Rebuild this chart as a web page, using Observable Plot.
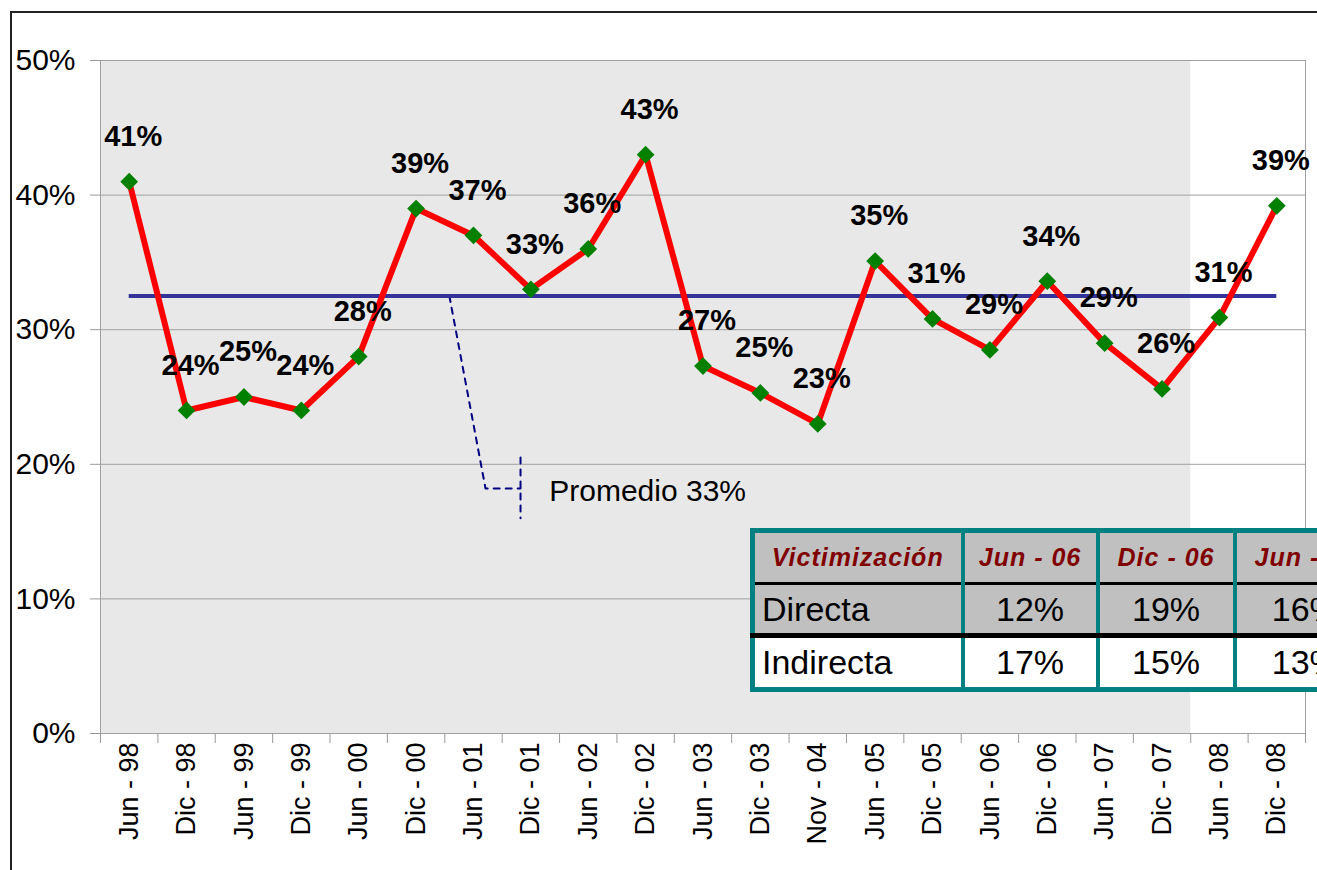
<!DOCTYPE html>
<html><head><meta charset="utf-8">
<script src="https://cdn.jsdelivr.net/npm/d3@7"></script>
<script src="https://cdn.jsdelivr.net/npm/@observablehq/plot@0.6"></script>
<style>
html,body{margin:0;padding:0;width:1317px;height:870px;overflow:hidden;background:#fff;font-family:Arial,"Liberation Sans",sans-serif;}
#frame{position:absolute;left:10px;top:11px;width:1400px;height:900px;border-top:2px solid #222;border-left:2px solid #222;box-sizing:border-box;}
#chart{position:absolute;left:0;top:0;}
#chart svg{overflow:visible;}
g[aria-label="y-axis tick"], g[aria-label="x-axis tick"]{stroke:#999;}
#tbl{position:absolute;left:750px;top:528px;width:625px;border-collapse:collapse;table-layout:fixed;border:5px solid #008080;}
#tbl td{border-left:4px solid #008080;border-right:4px solid #008080;padding:0;text-align:center;font-size:34px;color:#000;white-space:nowrap;overflow:hidden;}
#tbl tr.h td{background:#c0c0c0;color:#800000;font-weight:bold;font-style:italic;font-size:25px;letter-spacing:1px;height:49px;border-bottom:3px solid #000;}
#tbl tr.d td{background:#c0c0c0;height:48px;border-bottom:5px solid #000;}
#tbl tr.i td{background:#fff;height:49px;}
#tbl td.l{text-align:left;padding-left:7px;}
</style>
</head><body>
<div id="frame"></div>
<div id="chart"></div>
<table id="tbl"></table>
<script>
const categories = ["Jun - 98","Dic - 98","Jun - 99","Dic - 99","Jun - 00","Dic - 00","Jun - 01","Dic - 01","Jun - 02","Dic - 02","Jun - 03","Dic - 03","Nov - 04","Jun - 05","Dic - 05","Jun - 06","Dic - 06","Jun - 07","Dic - 07","Jun - 08","Dic - 08"];
const values = [41,24,25,24,28,39,37,33,36,43,27.3,25.3,23,35.1,30.8,28.5,33.6,29,25.6,30.9,39.2];
const valueLabels = ["41%","24%","25%","24%","28%","39%","37%","33%","36%","43%","27%","25%","23%","35%","31%","29%","34%","29%","26%","31%","39%"];
const average = 32.5;
const averageLabel = "Promedio 33%";
const shadedThrough = "Dic - 07";
const yTicks = [0,10,20,30,40,50];
const calloutPath = [{x:6.08,y:32.5},{x:6.71,y:18.2},{x:7.32,y:18.2}];
const calloutBar = [{x:7.32,y:20.5},{x:7.32,y:16.0}];
const calloutText = [{x:7.82,y:18.0}];

const tableHeader = ["Victimización","Jun - 06","Dic - 06","Jun - 07"];
const directa = ["Directa","12%","19%","16%"];
const indirecta = ["Indirecta","17%","15%","13%"];
const tableColWidths = [210,135,137,143];

const rows = categories.map((c,i)=>({cat:c, x:i+0.5, v:values[i], label:valueLabels[i]}));
const nShaded = categories.indexOf(shadedThrough)+1;
const font = "Arial, 'Liberation Sans', sans-serif";

const chart = Plot.plot({
  width:1317, height:870,
  marginLeft:100, marginRight:12, marginTop:60, marginBottom:137,
  style:{fontFamily:font, background:"transparent", color:"#000"},
  x:{domain:[0,categories.length]},
  y:{domain:[0,50]},
  marks:[
    Plot.rect([{x1:0,x2:nShaded}], {x1:"x1", x2:"x2", y1:0, y2:50, fill:"#e8e8e8"}),
    Plot.gridY([10,20,30,40], {stroke:"#a0a0a0", strokeOpacity:1}),
    Plot.frame({stroke:"#a0a0a0"}),
    Plot.axisY(yTicks, {tickFormat:d=>d+"%", tickSize:10, tickPadding:15, fontSize:30}),
    Plot.axisX(d3.range(0,categories.length+1), {tickFormat:()=>"", tickSize:10}),
    Plot.axisX(rows.map(r=>r.x), {tickSize:0, tickPadding:9, tickRotate:-90, fontSize:27, tickFormat:x=>categories[Math.floor(x)]}),
    Plot.line(calloutPath, {x:"x", y:"y", stroke:"#000080", strokeWidth:2, strokeDasharray:"6,6"}),
    Plot.line(calloutBar, {x:"x", y:"y", stroke:"#000080", strokeWidth:2, strokeDasharray:"6,6"}),
    Plot.text(calloutText, {x:"x", y:"y", text:()=>averageLabel, textAnchor:"start", fontSize:30, fill:"#000"}),
    Plot.ruleY([average], {x1:rows[0].x, x2:rows[rows.length-1].x, stroke:"#333399", strokeWidth:4}),
    Plot.line(rows, {x:"x", y:"v", stroke:"#ff0000", strokeWidth:6}),
    Plot.dot(rows, {x:"x", y:"v", symbol:"diamond2", r:8, fill:"#008000", stroke:"none"}),
    Plot.text(rows, {x:"x", y:"v", text:"label", dx:4, dy:-45, fontSize:29, fontWeight:"bold", fill:"#000"})
  ]
});
document.getElementById("chart").appendChild(chart);

const tbl = document.getElementById("tbl");
const cg = document.createElement("colgroup");
tableColWidths.forEach(w=>{const c=document.createElement("col"); c.style.width=w+"px"; cg.appendChild(c);});
tbl.appendChild(cg);
[[tableHeader,"h"],[directa,"d"],[indirecta,"i"]].forEach(([arr,cls])=>{
  const tr=document.createElement("tr"); tr.className=cls;
  arr.forEach((t,j)=>{const td=document.createElement("td"); td.textContent=t; if(j===0&&cls!=="h") td.className="l"; tr.appendChild(td);});
  tbl.appendChild(tr);
});
</script>
</body></html>
